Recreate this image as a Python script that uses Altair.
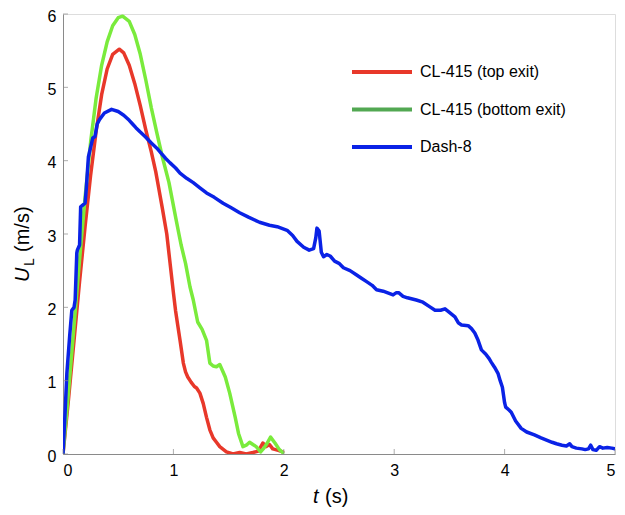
import altair as alt
import pandas as pd

# ---------------- data ----------------
series_names = ["CL-415 (top exit)", "CL-415 (bottom exit)", "Dash-8"]
line_colors = ["#e8382a", "#7aeb3c", "#0a22e6"]
legend_colors = ["#e8382a", "#52a852", "#0a22e6"]

red_t = [0, 0.05, 0.1, 0.15, 0.2, 0.25, 0.3, 0.35, 0.4, 0.45, 0.51, 0.55, 0.6, 0.65, 0.7, 0.75,
         0.78, 0.8, 0.84, 0.87, 0.9, 0.94, 0.97, 1.0, 1.02, 1.04, 1.06, 1.09, 1.11, 1.13, 1.16,
         1.19, 1.21, 1.24, 1.27, 1.3, 1.33, 1.36, 1.39, 1.42, 1.48, 1.54, 1.6, 1.66, 1.72, 1.77,
         1.81, 1.84, 1.87, 1.9, 1.95, 1.99]
red_u = [0, 0.75, 1.55, 2.35, 3.1, 3.8, 4.4, 4.9, 5.25, 5.45, 5.52, 5.47, 5.3, 5.05, 4.75, 4.42,
         4.24, 4.12, 3.85, 3.6, 3.35, 3.0, 2.6, 2.2, 1.95, 1.75, 1.55, 1.24, 1.12, 1.05, 0.98,
         0.92, 0.9, 0.83, 0.69, 0.5, 0.33, 0.22, 0.16, 0.1, 0.03, 0.0, 0.02, 0.0, 0.02, 0.04,
         0.15, 0.1, 0.13, 0.07, 0.05, 0.03]

green_t = [0, 0.05, 0.1, 0.15, 0.2, 0.25, 0.3, 0.35, 0.4, 0.45, 0.5, 0.54, 0.6, 0.65, 0.7, 0.75,
           0.8, 0.85, 0.9, 0.96, 1.02, 1.05, 1.07, 1.11, 1.15, 1.18, 1.22, 1.26, 1.3, 1.33, 1.36,
           1.39, 1.42, 1.47, 1.51, 1.56, 1.59, 1.63, 1.66, 1.69, 1.72, 1.75, 1.79, 1.82, 1.85,
           1.88, 1.92, 1.96, 1.99]
green_u = [0, 0.85, 1.75, 2.65, 3.5, 4.25, 4.85, 5.3, 5.62, 5.84, 5.95, 5.97, 5.9, 5.72, 5.45, 5.1,
           4.72, 4.38, 4.05, 3.7, 3.23, 3.0, 2.85, 2.6, 2.28, 2.1, 1.8, 1.7, 1.55, 1.24, 1.2,
           1.19, 1.22, 1.05, 0.83, 0.5, 0.28, 0.1, 0.12, 0.16, 0.13, 0.1, 0.03, 0.08, 0.15,
           0.23, 0.15, 0.06, 0.02]

blue_t = [0, 0.02, 0.035, 0.06, 0.08, 0.1, 0.11, 0.125, 0.13, 0.15, 0.16, 0.2, 0.21, 0.23, 0.27,
          0.29, 0.31, 0.33, 0.375, 0.44, 0.5, 0.55, 0.6, 0.63, 0.66, 0.7, 0.75, 0.8, 0.85, 0.89,
          0.93, 0.97, 1.02, 1.06, 1.12, 1.18, 1.24, 1.3, 1.37, 1.45, 1.52, 1.6, 1.68, 1.78, 1.87,
          1.94, 2.03, 2.08, 2.12, 2.18, 2.23, 2.27, 2.29, 2.3, 2.32, 2.34, 2.36, 2.39, 2.42, 2.46,
          2.5, 2.54, 2.6, 2.66, 2.7, 2.75, 2.8, 2.84, 2.9, 2.99, 3.02, 3.04, 3.08, 3.12, 3.2,
          3.26, 3.32, 3.37, 3.42, 3.46, 3.5, 3.55, 3.58, 3.61, 3.67, 3.7, 3.73, 3.76, 3.79, 3.83,
          3.86, 3.88, 3.91, 3.94, 3.96, 3.98, 4.0, 4.01, 4.04, 4.06, 4.1, 4.15, 4.2, 4.27, 4.33,
          4.38, 4.43, 4.47, 4.52, 4.56, 4.59, 4.61, 4.65, 4.7, 4.73, 4.76, 4.78, 4.8, 4.83, 4.86,
          4.89, 4.93, 4.97, 5.0]
blue_u = [0, 0.6, 1.1, 1.6, 1.96, 2.0, 2.1, 2.74, 2.78, 2.85, 3.37, 3.42, 3.6, 4.05, 4.31,
          4.33, 4.5, 4.56, 4.65, 4.7, 4.67, 4.62, 4.55, 4.5, 4.45, 4.39, 4.32, 4.24, 4.17, 4.1,
          4.03, 3.97, 3.9, 3.83, 3.76, 3.7, 3.63, 3.56, 3.5, 3.42, 3.36, 3.29, 3.23, 3.16, 3.12,
          3.1, 3.05, 2.98, 2.9, 2.82, 2.78, 2.8, 2.95, 3.08, 3.04, 2.75, 2.69, 2.72, 2.7, 2.63,
          2.6, 2.54, 2.5, 2.44, 2.4, 2.35, 2.3, 2.24, 2.22, 2.17, 2.2, 2.2, 2.15, 2.13, 2.1,
          2.07, 2.01, 1.96, 1.96, 1.98, 1.93, 1.87, 1.79, 1.76, 1.75, 1.71, 1.65, 1.55, 1.42, 1.36,
          1.3, 1.25, 1.18, 1.1, 1.0, 0.91, 0.7, 0.64, 0.6, 0.57, 0.45, 0.35, 0.3, 0.26, 0.22,
          0.19, 0.16, 0.14, 0.12, 0.11, 0.14, 0.1, 0.08, 0.07, 0.06, 0.07, 0.12, 0.06, 0.05, 0.1,
          0.08, 0.09, 0.08, 0.07]

x_ticks = [0, 1, 2, 3, 4, 5]
y_ticks = [0, 1, 2, 3, 4, 5, 6]

# ---------------- layout ----------------
W, H = 552, 440
FONT = "Liberation Sans"
AXIS_GRAY = "#8a8a8a"

xs = alt.Scale(domain=[0, 5], nice=False, zero=False)
ys = alt.Scale(domain=[0, 6], nice=False, zero=False)

x_axis = alt.Axis(values=x_ticks, format="d", ticks=False, grid=False, title=None,
                  labelPadding=8, domainColor=AXIS_GRAY, labelFontSize=16,
                  labelColor="black", labelFont=FONT)
y_axis = alt.Axis(values=y_ticks, format="d", ticks=False, grid=False, title=None,
                  labelPadding=7, labelOffset=2, domainColor=AXIS_GRAY, labelFontSize=16,
                  labelColor="black", labelFont=FONT)


def line_layer(t, u, color):
    df = pd.DataFrame({"t": t, "U": u})
    return alt.Chart(df).mark_line(color=color, strokeWidth=3.5, clip=True,
                                   strokeJoin="round", strokeCap="round").encode(
        x=alt.X("t:Q", scale=xs, axis=x_axis),
        y=alt.Y("U:Q", scale=ys, axis=y_axis),
    )


layers = [
    line_layer(red_t, red_u, line_colors[0]),
    line_layer(green_t, green_u, line_colors[1]),
    line_layer(blue_t, blue_u, line_colors[2]),
]

# inward tick marks
xt = alt.Chart(pd.DataFrame({"v": x_ticks})).mark_tick(
    orient="vertical", size=5, thickness=1, color=AXIS_GRAY).encode(
    x=alt.X("v:Q", scale=xs, axis=x_axis), y=alt.value(H - 2.5))
yt = alt.Chart(pd.DataFrame({"v": y_ticks})).mark_tick(
    orient="horizontal", size=5, thickness=1, color=AXIS_GRAY).encode(
    y=alt.Y("v:Q", scale=ys, axis=y_axis), x=alt.value(2.5))
layers += [xt, yt]

# legend (manual, symbols are drawn in a darker green than the line)
leg_df = pd.DataFrame({"name": series_names, "i": [0, 1, 2]})
for i, (name, col) in enumerate(zip(series_names, legend_colors)):
    yy = 58 + 37.5 * i
    base = alt.Chart(leg_df).transform_filter(alt.datum.i == i)
    layers.append(base.mark_rule(color=col, strokeWidth=4).encode(
        x=alt.value(289), x2=alt.value(349), y=alt.value(yy)))
    layers.append(base.mark_text(align="left", baseline="middle", font=FONT,
                                 fontSize=16, color="black").encode(
        x=alt.value(357), y=alt.value(yy), text="name:N"))

# axis titles with italic symbols and subscript
title_df = pd.DataFrame({"s": ["t", "(s)", "U", "L", "(m/s)"]})


def title_text(label, x, y, size, italic=False, angle=0):
    kw = dict(align="left", baseline="alphabetic", font=FONT, fontSize=size,
              color="black")
    if italic:
        kw["fontStyle"] = "italic"
    if angle:
        kw["angle"] = angle
    return alt.Chart(title_df).transform_filter(alt.datum.s == label).mark_text(**kw).encode(
        x=alt.value(x), y=alt.value(y), text="s:N")


layers += [
    title_text("t", 250, 489, 20, italic=True),
    title_text("(s)", 262, 489, 20),
    title_text("U", -34, 268, 20, italic=True, angle=270),
    title_text("L", -29, 252, 14, angle=270),
    title_text("(m/s)", -34, 238, 20, angle=270),
]

chart = alt.layer(*layers).properties(
    width=W, height=H,
    padding={"left": 55, "top": 6, "right": 2, "bottom": 54},
    autosize=alt.AutoSizeParams(type="none"),
).configure_view(stroke=None).configure(background="white")

chart.save("out.html", embed_options={"renderer": "svg", "actions": False})
